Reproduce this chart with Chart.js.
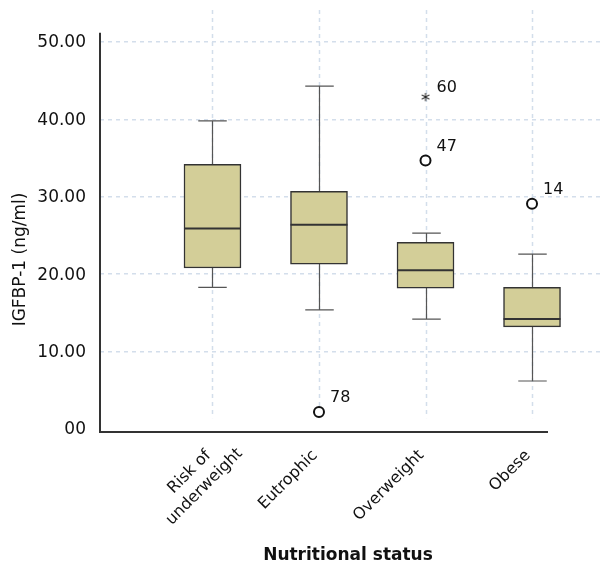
<!DOCTYPE html>
<html><head><meta charset="utf-8">
<script src="https://cdn.jsdelivr.net/npm/chart.js@4/dist/chart.umd.min.js"></script>
<style>html,body{margin:0;padding:0;background:#fff}#wrap{width:602px;height:566px;position:relative}</style>
</head><body><div id="wrap"><canvas id="c"></canvas></div>
<script>
// ---- data ----
const categories = [['Risk of', 'underweight'], 'Eutrophic', 'Overweight', 'Obese'];
const whiskerLow  = [18.3, 15.4, 14.2, 6.2];
const q1          = [20.8, 21.3, 18.2, 13.2];
const median      = [25.9, 26.4, 20.5, 14.2];
const q3          = [34.2, 30.7, 24.1, 18.3];
const whiskerHigh = [39.8, 44.3, 25.3, 22.6];
const outlierCategory = [2, 3, 3, 4];
const outlierValues   = [2.2, 34.7, 42.9, 29.1];
const outlierIds      = ['78', '47', '60', '14'];
const outlierExtreme  = [false, false, true, false];
const yTicks = [0, 10, 20, 30, 40, 50];
const yTickLabels = ['00', '10.00', '20.00', '30.00', '40.00', '50.00'];
const yTitle = 'IGFBP-1 (ng/ml)';
const xTitle = 'Nutritional status';

const FONT = 'DejaVu Sans';
Chart.defaults.font.family = FONT;
Chart.defaults.color = '#111';

const boxData = categories.map((c, i) => ({ x: i + 1, y: [q1[i], q3[i]] }));
const outData = outlierValues.map((v, i) => ({ x: outlierCategory[i], y: v }));

// asterisk marker for extreme values
const starImg = document.createElement('canvas');
starImg.width = 14; starImg.height = 14;
(function () {
  const g = starImg.getContext('2d');
  g.fillStyle = '#111';
  g.font = '18px "' + FONT + '"';
  g.textAlign = 'center';
  g.textBaseline = 'middle';
  g.fillText('*', 7, 11);
})();

const boxPlugin = {
  id: 'boxExtras',
  beforeDatasetsDraw(chart) {
    const ctx = chart.ctx, xs = chart.scales.x, ys = chart.scales.y, ca = chart.chartArea;
    ctx.save();
    // vertical dashed gridlines
    ctx.strokeStyle = '#d3deeb';
    ctx.lineWidth = 1.5;
    ctx.setLineDash([4, 4]);
    categories.forEach((c, i) => {
      const x = Math.round(xs.getPixelForValue(i + 1)) + 0.5;
      ctx.beginPath();
      ctx.moveTo(x, ca.top);
      ctx.lineTo(x, ys.getPixelForValue(1.4));
      ctx.stroke();
    });
    ctx.setLineDash([]);
    // whiskers
    const meta = chart.getDatasetMeta(0);
    ctx.strokeStyle = '#555';
    ctx.lineWidth = 1.2;
    categories.forEach((c, i) => {
      const el = meta.data[i];
      const x = Math.round(el.x) + 0.5;
      const hw = el.width / 4;
      const yl = ys.getPixelForValue(whiskerLow[i]);
      const yh = ys.getPixelForValue(whiskerHigh[i]);
      ctx.beginPath();
      ctx.moveTo(x, ys.getPixelForValue(q1[i])); ctx.lineTo(x, yl);
      ctx.moveTo(x, ys.getPixelForValue(q3[i])); ctx.lineTo(x, yh);
      ctx.moveTo(x - hw, yl); ctx.lineTo(x + hw, yl);
      ctx.moveTo(x - hw, yh); ctx.lineTo(x + hw, yh);
      ctx.stroke();
    });
    ctx.restore();
  },
  afterDatasetsDraw(chart) {
    const ctx = chart.ctx, xs = chart.scales.x, ys = chart.scales.y, ca = chart.chartArea;
    ctx.save();
    const meta = chart.getDatasetMeta(0);
    // medians
    ctx.strokeStyle = '#333';
    ctx.lineWidth = 2;
    categories.forEach((c, i) => {
      const el = meta.data[i];
      const y = ys.getPixelForValue(median[i]);
      ctx.beginPath();
      ctx.moveTo(el.x - el.width / 2, y);
      ctx.lineTo(el.x + el.width / 2, y);
      ctx.stroke();
    });
    // outlier ids
    ctx.fillStyle = '#111';
    ctx.font = '16px "' + FONT + '"';
    ctx.textAlign = 'left';
    ctx.textBaseline = 'middle';
    outlierValues.forEach((v, i) => {
      const x = xs.getPixelForValue(outlierCategory[i]);
      const y = ys.getPixelForValue(v);
      ctx.fillText(outlierIds[i], x + 11, y + (outlierExtreme[i] ? -9 : -14));
    });
    // axis lines
    ctx.strokeStyle = '#333';
    ctx.lineWidth = 2;
    ctx.beginPath();
    ctx.moveTo(ca.left, ys.getPixelForValue(51.2));
    ctx.lineTo(ca.left, ca.bottom);
    ctx.lineTo(xs.getPixelForValue(4.15), ca.bottom);
    ctx.stroke();
    // y tick labels
    ctx.font = '17px "' + FONT + '"';
    ctx.textAlign = 'right';
    ctx.textBaseline = 'middle';
    yTicks.forEach((v, i) => {
      ctx.fillText(yTickLabels[i], ca.left - 14, ys.getPixelForValue(v) + 1);
    });
    // x tick labels (rotated 45°)
    ctx.font = '16px "' + FONT + '"';
    const lh = 21;
    categories.forEach((c, i) => {
      const lines = Array.isArray(c) ? c : [c];
      const w0 = ctx.measureText(lines[0]).width;
      ctx.save();
      ctx.translate(xs.getPixelForValue(i + 1) - 4, ca.bottom + 21);
      ctx.rotate(-Math.PI / 4);
      ctx.textAlign = 'center';
      lines.forEach((ln, k) => ctx.fillText(ln, -w0 / 2, k * lh));
      ctx.restore();
    });
    // titles
    ctx.save();
    ctx.font = '17px "' + FONT + '"';
    ctx.textAlign = 'center';
    ctx.translate(21, 259.5);
    ctx.rotate(-Math.PI / 2);
    ctx.fillText(yTitle, 0, 0);
    ctx.restore();
    ctx.font = 'bold 17px "' + FONT + '"';
    ctx.textAlign = 'center';
    ctx.fillText(xTitle, 348, 556);
    ctx.restore();
  }
};

new Chart(document.getElementById('c'), {
  type: 'bar',
  data: {
    datasets: [
      {
        type: 'bar',
        data: boxData,
        backgroundColor: '#d3ce98',
        borderColor: '#333',
        borderWidth: 1.5,
        borderSkipped: false,
        barThickness: 57,
        order: 2
      },
      {
        type: 'scatter',
        data: outData,
        pointStyle: outlierExtreme.map(e => e ? starImg : 'circle'),
        pointRadius: 5,
        borderWidth: 2,
        backgroundColor: '#fff',
        borderColor: '#111',
        order: 1
      }
    ]
  },
  options: {
    responsive: true,
    maintainAspectRatio: false,
    animation: false,
    layout: { autoPadding: false, padding: { top: 10, right: 0, left: 0, bottom: 0 } },
    plugins: { legend: { display: false }, tooltip: { enabled: false } },
    scales: {
      x: {
        type: 'linear',
        min: -0.056,
        max: 4.657,
        offset: false,
        grid: { display: false },
        border: { display: false },
        ticks: { display: false },
        afterFit(s) { s.height = 134; }
      },
      y: {
        type: 'linear',
        min: -0.39,
        max: 54.13,
        afterBuildTicks(s) { s.ticks = yTicks.map(v => ({ value: v })); },
        afterFit(s) { s.width = 100; },
        grid: {
          drawTicks: false,
          lineWidth: 1.5,
          color: c => (c.tick && c.tick.value === 0) ? 'rgba(0,0,0,0)' : '#d3deeb'
        },
        border: { display: false, dash: [4, 4] },
        ticks: { display: false }
      }
    }
  },
  plugins: [boxPlugin]
});
</script></body></html>
